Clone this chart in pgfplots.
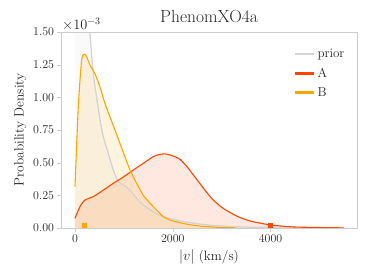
\documentclass[border=0pt]{standalone}
\usepackage{pgfplots}
\pgfplotsset{compat=1.18}
\usetikzlibrary{calc}
\definecolor{cA}{HTML}{FF4500}
\definecolor{cB}{HTML}{FFA500}
\definecolor{cP}{HTML}{D3D3D3}
\definecolor{spine}{HTML}{CCCCCC}
\pgfplotstableread{
v y
0 9
50 5
100 3.6
150 2.8
200 2.25
250 1.85
300 1.52
375 1.18
443 1.00
511 0.83
579 0.70
682 0.57
784 0.444
886 0.354
989 0.33
1125 0.29
1261 0.227
1397 0.176
1602 0.125
1806 0.087
1943 0.074
2100 0.058
2290 0.045
2600 0.028
3000 0.015
3500 0.007
4000 0.004
4500 0.002
5000 0.001
5500 0.0005
}\prior
\pgfplotstableread{
v y
0 0.074
102 0.163
204 0.214
375 0.24
579 0.29
784 0.342
989 0.39
1193 0.444
1397 0.495
1602 0.546
1738 0.564
1850 0.567
1943 0.559
2050 0.545
2150 0.525
2290 0.47
2454 0.39
2658 0.29
2828 0.214
3033 0.150
3306 0.092
3579 0.054
4002 0.023
4464 0.008
4800 0.005
5100 0.003
5500 0.001
}\postA
\pgfplotstableread{
v y
0 0.316
68 0.93
136 1.285
191 1.33
238 1.31
307 1.247
409 1.18
511 1.08
613 0.954
716 0.85
818 0.75
920 0.648
1022 0.546
1125 0.444
1261 0.342
1397 0.25
1534 0.19
1670 0.138
1806 0.087
1943 0.061
2150 0.04
2350 0.025
2560 0.015
2800 0.008
3000 0.004
3300 0.001
}\postB
\begin{document}
\begin{tikzpicture}
\begin{axis}[
  scale only axis, width=296bp, height=196bp,
  xmin=-286, xmax=5767, ymin=0, ymax=1.5,
  xtick={0,2000,4000}, ytick={0,0.25,0.5,0.75,1,1.25,1.5},
  xticklabel style={/pgf/number format/.cd, 1000 sep={}},
  yticklabel style={/pgf/number format/.cd, fixed, fixed zerofill, precision=2},
  scaled x ticks=false, scaled y ticks=false,
  axis line style={spine}, tick style={spine}, tick align=outside,
  major tick length=3.5bp, xtick pos=bottom, ytick pos=left,
  ticklabel style={font=\fontsize{12.5bp}{15bp}\selectfont, text=black!85},
  label style={font=\fontsize{13.5bp}{16bp}\selectfont, text=black!85},
  xlabel={$|v|$ (km/s)}, ylabel={Probability Density},
  title={PhenomXO4a}, title style={font=\fontsize{17.5bp}{20bp}\selectfont, text=black!85},
  legend style={draw=none, fill=none, at={(rel axis cs:0.975,0.935)}, anchor=north east,
    font=\fontsize{13bp}{15bp}\selectfont, text=black!85, row sep=5bp},
  legend cell align=left,
  legend image code/.code={\draw[#1, line width=2.8bp] (0bp,0bp) -- (19bp,0bp);},
  clip=true,
  every axis plot/.append style={smooth, tension=0.4},
]
\coordinate (ll) at (rel axis cs:0,0);
\coordinate (ur) at (rel axis cs:1,1);
\addplot[fill=cP, fill opacity=0.12, draw=none, forget plot] table[x=v,y=y] {\prior} \closedcycle;
\addplot[fill=cA, fill opacity=0.12, draw=none, forget plot] table[x=v,y=y] {\postA} \closedcycle;
\addplot[fill=cB, fill opacity=0.12, draw=none, forget plot] table[x=v,y=y] {\postB} \closedcycle;
\addplot[cP, line width=1.3bp] table[x=v,y=y] {\prior};
\addlegendentry{prior}
\addplot[cA, line width=1.1bp] table[x=v,y=y] {\postA};
\addlegendentry{A}
\addplot[cB, line width=1.1bp] table[x=v,y=y] {\postB};
\addlegendentry{B}
\addplot[only marks, mark=square*, mark size=2bp, cB, forget plot] coordinates {(190,0.02)};
\addplot[only marks, mark=square*, mark size=2bp, cA, forget plot] coordinates {(4000,0.02)};
\end{axis}
\node[anchor=south west, inner sep=1bp, font=\fontsize{14bp}{16bp}\selectfont, text=black!85] at (ll |- ur) {$\times10^{-3}$};
\draw[spine] (ll) rectangle (ur);
\pgfresetboundingbox
\useasboundingbox ($(ll)+(-61bp,-52bp)$) rectangle ($(ur)+(17bp,32bp)$);
\end{tikzpicture}
\end{document}
